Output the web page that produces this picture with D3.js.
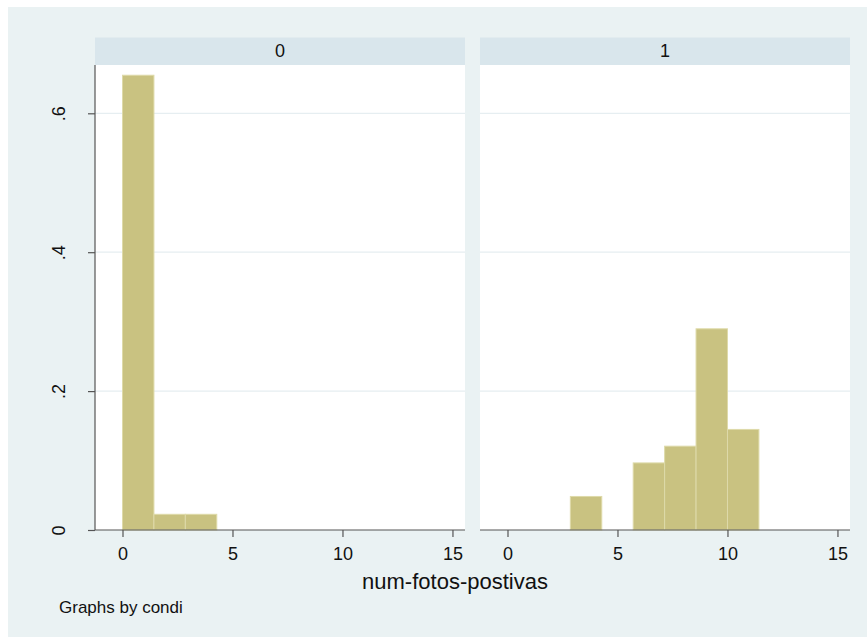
<!DOCTYPE html>
<html>
<head>
<meta charset="utf-8">
<script src="https://cdn.jsdelivr.net/npm/d3@7"></script>
<style>
  html, body { margin: 0; padding: 0; background: #ffffff; }
  svg { display: block; }
  text { font-family: "Liberation Sans", Arial, sans-serif; fill: #111; }
</style>
</head>
<body>
<svg id="chart" width="867" height="637"></svg>
<script>
// Histogram of num-fotos-postivas by condi (density scale)
const panels = ["0", "1"];
const binEdges = [0, 1.4286, 2.8571, 4.2857, 5.7143, 7.1429, 8.5714, 10, 11.4286];
const density0 = [0.6548, 0.0226, 0.0226, 0, 0, 0, 0, 0];
const density1 = [0, 0, 0.0483, 0, 0.0966, 0.1207, 0.2897, 0.1448];
const xTicks = [0, 5, 10, 15];
const yTicks = [0, 0.2, 0.4, 0.6];
const yTickLabels = ["0", ".2", ".4", ".6"];
const xTitle = "num-fotos-postivas";
const note = "Graphs by condi";

const densities = [density0, density1];

const svg = d3.select("#chart");

// graph region background
svg.append("rect")
  .attr("x", 8).attr("y", 7).attr("width", 867 - 8).attr("height", 637 - 7)
  .attr("fill", "#eaf2f3");

const plotTop = 65, plotBottom = 530, stripTop = 37.5;
const panelLeft = [95, 480];
const panelWidth = 370;

const y = d3.scaleLinear().domain([0, 0.6]).range([plotBottom, 113.3]);

panels.forEach((label, i) => {
  const left = panelLeft[i];
  const x = d3.scaleLinear().domain([-1.25, 15.57]).range([left, left + panelWidth]);
  const g = svg.append("g");

  // strip
  g.append("rect")
    .attr("x", left).attr("y", stripTop)
    .attr("width", panelWidth).attr("height", plotTop - stripTop)
    .attr("fill", "#d9e6ec");
  g.append("text")
    .attr("x", left + panelWidth / 2).attr("y", 57)
    .attr("text-anchor", "middle")
    .attr("font-size", 18)
    .text(label);

  // plot region
  g.append("rect")
    .attr("x", left).attr("y", plotTop)
    .attr("width", panelWidth).attr("height", plotBottom - plotTop)
    .attr("fill", "#ffffff");

  // grid lines
  g.selectAll(".grid")
    .data(yTicks.filter(v => v > 0))
    .join("line")
    .attr("x1", left).attr("x2", left + panelWidth)
    .attr("y1", d => y(d)).attr("y2", d => y(d))
    .attr("stroke", "#e6eef1").attr("stroke-width", 1.2);

  // bars
  const bars = densities[i].map((v, k) => ({ x0: binEdges[k], x1: binEdges[k + 1], v }))
    .filter(d => d.v > 0);
  g.selectAll(".bar")
    .data(bars)
    .join("rect")
    .attr("x", d => x(d.x0))
    .attr("y", d => y(d.v))
    .attr("width", d => x(d.x1) - x(d.x0))
    .attr("height", d => y(0) - y(d.v))
    .attr("fill", "#c9c281")
    .attr("stroke", "#dedaa9")
    .attr("stroke-width", 1);

  // x axis
  const xAxis = g.append("g")
    .attr("transform", `translate(0,${plotBottom})`)
    .call(d3.axisBottom(x).tickValues(xTicks).tickSize(7).tickFormat(d3.format("d")));
  xAxis.select(".domain").remove();
  xAxis.append("line")
    .attr("x1", left).attr("x2", left + panelWidth)
    .attr("y1", 0).attr("y2", 0)
    .attr("stroke", "#555").attr("stroke-width", 1.2);
  xAxis.selectAll(".tick line").attr("stroke", "#555").attr("stroke-width", 1.2);
  xAxis.selectAll(".tick text")
    .attr("font-size", 18)
    .attr("font-family", "Liberation Sans, Arial, sans-serif")
    .attr("fill", "#111")
    .attr("dy", null).attr("y", 30);

  // y axis only on the first panel
  if (i === 0) {
    const yAxis = g.append("g")
      .attr("transform", `translate(${left},0)`)
      .call(d3.axisLeft(y).tickValues(yTicks).tickSize(7).tickFormat((d, j) => yTickLabels[j]));
    yAxis.select(".domain").remove();
    yAxis.append("line")
      .attr("x1", 0).attr("x2", 0)
      .attr("y1", plotTop).attr("y2", plotBottom)
      .attr("stroke", "#555").attr("stroke-width", 1.2);
    yAxis.selectAll(".tick line").attr("stroke", "#555").attr("stroke-width", 1.2);
    yAxis.selectAll(".tick text")
      .attr("font-size", 18)
      .attr("font-family", "Liberation Sans, Arial, sans-serif")
      .attr("fill", "#111")
      .attr("text-anchor", "middle")
      .attr("x", null).attr("dy", null)
      .attr("transform", "translate(-30,0) rotate(-90)");
  }
});

// axis title and note
svg.append("text")
  .attr("x", 455).attr("y", 589)
  .attr("text-anchor", "middle")
  .attr("font-size", 22)
  .text(xTitle);

svg.append("text")
  .attr("x", 59).attr("y", 612.5)
  .attr("font-size", 17)
  .text(note);
</script>
</body>
</html>
